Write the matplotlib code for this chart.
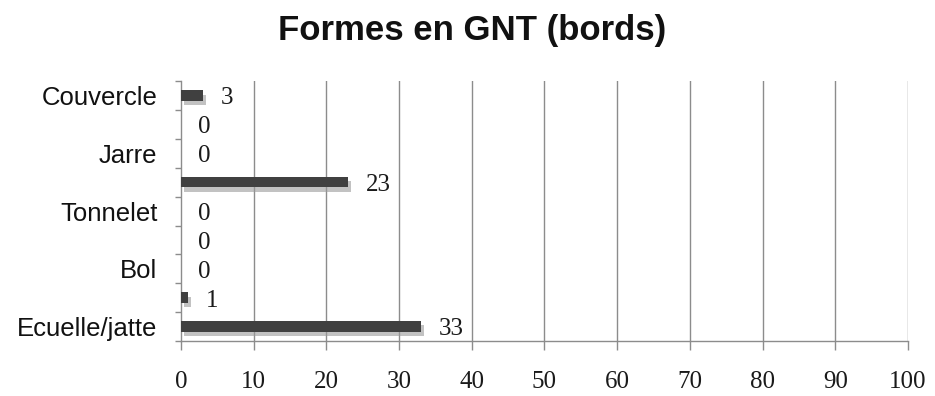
import matplotlib
matplotlib.use("Agg")
import matplotlib.pyplot as plt
import matplotlib.patheffects as pe
import numpy as np

# Rim forms, bottom to top (every other category label is shown)
categories = ["Ecuelle/jatte", "", "Bol", "", "Tonnelet", "", "Jarre", "", "Couvercle"]
counts = [33, 1, 0, 0, 0, 23, 0, 0, 3]
x_ticks = [0, 10, 20, 30, 40, 50, 60, 70, 80, 90, 100]

fig = plt.figure(figsize=(9.35, 3.96), dpi=100)
ax = fig.add_axes([0.1936, 0.139, 0.7775, 0.656])

y = np.arange(len(categories))
grid_col = "#8c8c8c"

bars = ax.barh(y, counts, height=0.36, color="#404040", zorder=3)
for b in bars:
    b.set_path_effects([
        pe.SimplePatchShadow(offset=(2, -3), shadow_rgbFace="#9a9a9a", alpha=0.6),
        pe.Normal(),
    ])

for yi, v in zip(y, counts):
    ax.text(v + 2.4, yi - 0.1, f"{v}", va="center", ha="left",
            fontsize=18, family="Liberation Serif", color="#1a1a1a")

ax.set_xlim(0, 100)
ax.set_ylim(-0.5, len(categories) - 0.5)
ax.set_xticks(x_ticks)
ax.set_xticklabels([str(t) for t in x_ticks], family="Liberation Serif", fontsize=18,
                   color="#1a1a1a")

# category labels at centers, tick marks at category boundaries
ax.set_yticks(y)
ax.set_yticklabels(categories, family="Liberation Sans", fontsize=18.5, color="#111111")
ax.tick_params(axis="y", which="major", length=0, pad=17)
ax.set_yticks(np.arange(-0.5, len(categories)), minor=True)
ax.tick_params(axis="y", which="minor", length=4, color=grid_col, width=1)
ax.tick_params(axis="x", length=6.5, color=grid_col, width=1, pad=15, direction="out")

for t in x_ticks[1:]:
    ax.axvline(t, color=grid_col, lw=1, zorder=1)

for s in ["top", "right"]:
    ax.spines[s].set_visible(False)
for s in ["left", "bottom"]:
    ax.spines[s].set_color(grid_col)
    ax.spines[s].set_linewidth(1)

fig.text(0.505, 0.922, "Formes en GNT (bords)", ha="center", va="center",
         fontsize=25, fontweight="bold", family="Liberation Sans", color="#111111")

fig.savefig("out.png", dpi=100, facecolor="white")
